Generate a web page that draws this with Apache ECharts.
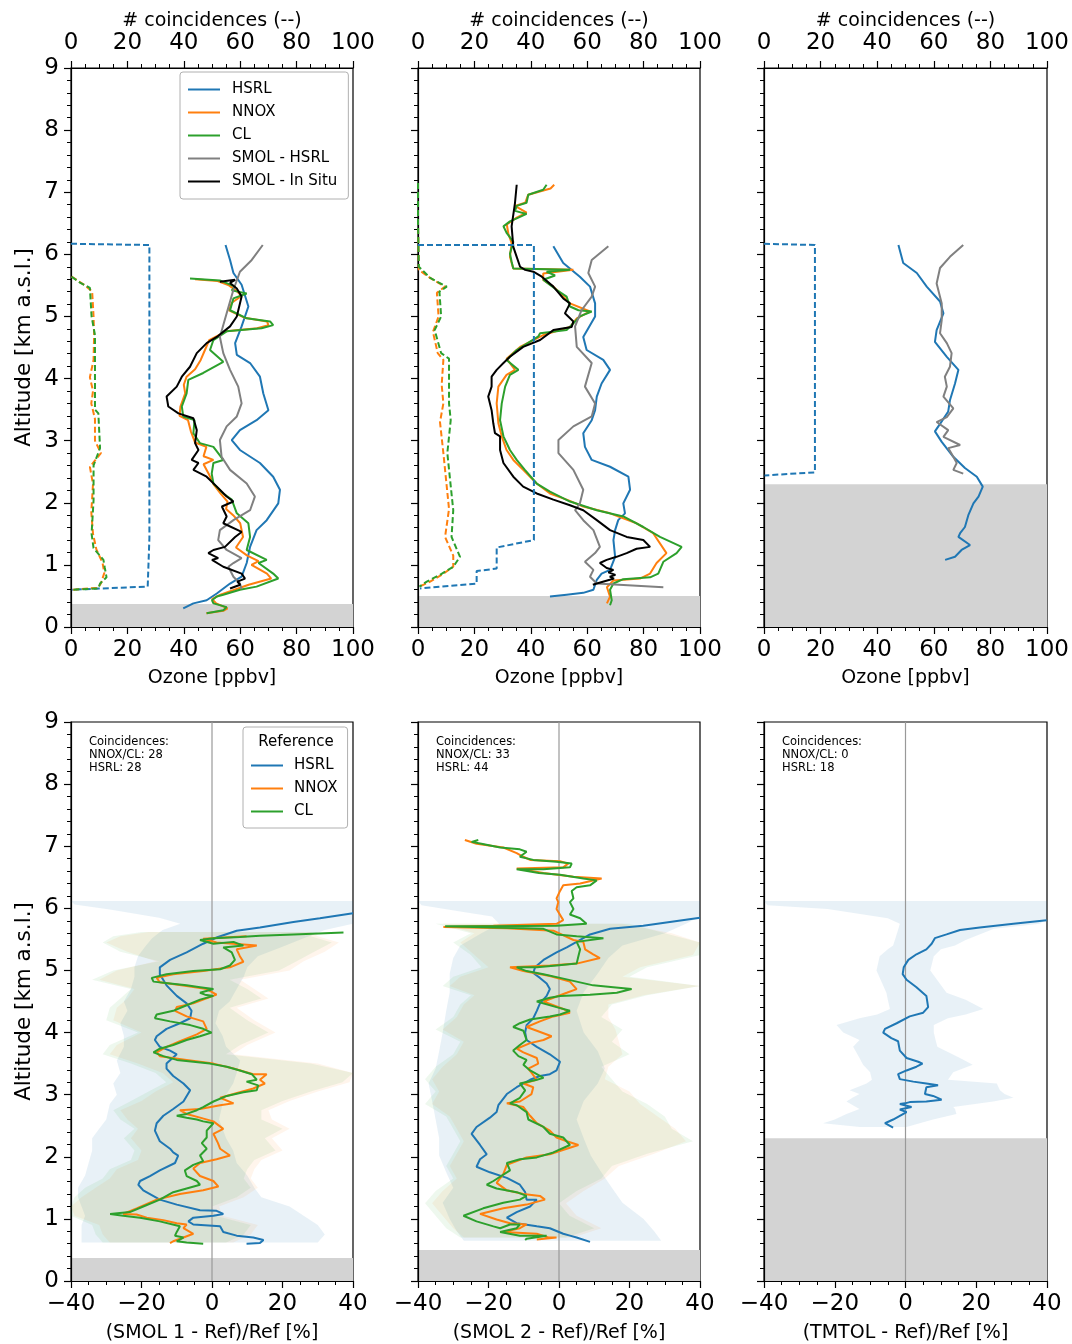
<!DOCTYPE html>
<html>
<head>
<meta charset="utf-8">
<script src="https://cdn.jsdelivr.net/npm/echarts@6/dist/echarts.min.js"></script>
<style>
html, body { margin: 0; padding: 0; background: #fff; }
#main { width: 1072px; height: 1344px; }
</style>
</head>
<body>
<div id="main"></div>
<script>
const FONT = 'DejaVu Sans'
const C_HSRL = '#1f77b4', C_NNOX = '#ff7f0e', C_CL = '#2ca02c', C_SMOL = '#808080', C_INSITU = '#000000'

// layout of the 2 x 3 panels
const panelLeft = [71, 418, 764]
const panelWidth = [282, 282, 283]
const rowTop = [68, 722]
const panelHeight = 559

// per column info
const groundAlt = [0.37, 0.5, 2.3]
const coincNnoxCl = [28, 33, 0]
const coincHsrl = [28, 44, 18]
const diffNames = ['(SMOL 1 - Ref)/Ref [%]', '(SMOL 2 - Ref)/Ref [%]', '(TMTOL - Ref)/Ref [%]']

// ---- top row: ozone profiles [ppbv, km] ----
const o3HsrlA = [[54.8,6.15],[56.4,5.91],[57.6,5.70],[60.5,5.51],[62.9,5.16],[60.5,4.84],[58.2,4.57],[58.8,4.38],[63.5,4.25],[67.0,4.03],[68.2,3.76],[70.0,3.49],[65.8,3.33],[59.9,3.17],[57.0,3.01],[59.9,2.85],[67.0,2.64],[71.7,2.42],[74.1,2.21],[73.5,1.99],[69.4,1.72],[65.8,1.56],[63.5,1.29],[62.3,1.03],[60.5,0.81],[56.4,0.70],[51.7,0.54],[48.1,0.43],[43.4,0.38],[39.8,0.30]]
const o3SmolHsrlA = [[68.0,6.15],[64.1,5.91],[59.9,5.72],[57.6,5.43],[55.2,5.05],[52.8,4.67],[54.0,4.41],[56.4,4.14],[59.3,3.87],[60.5,3.60],[58.8,3.39],[55.2,3.23],[52.8,3.01],[53.4,2.74],[56.4,2.53],[62.3,2.31],[65.2,2.10],[63.5,1.88],[57.6,1.72],[52.8,1.56],[52.2,1.40],[55.2,1.24],[60.5,1.11],[57.6,1.03],[55.8,0.97],[57.6,0.81],[59.9,0.70],[60.5,0.61]]
const o3InsituA = [[52.8,5.56],[58.2,5.59],[56.4,5.54],[58.8,5.45],[60.5,5.32],[58.8,5.00],[56.4,4.84],[51.7,4.67],[48.1,4.57],[44.6,4.41],[42.2,4.19],[39.3,4.03],[37.5,3.87],[33.9,3.71],[34.5,3.55],[38.1,3.44],[43.4,3.36],[44.6,3.17],[44.0,2.96],[45.2,2.85],[42.8,2.69],[45.2,2.64],[43.4,2.53],[48.1,2.42],[51.7,2.26],[55.2,2.10],[57.6,2.02],[53.5,1.94],[55.2,1.78],[54.0,1.67],[60.5,1.53],[58.2,1.45],[54.6,1.29],[50.5,1.24],[48.7,1.19],[52.2,1.11],[50.0,1.08],[54.0,0.97],[60.5,0.86],[61.7,0.78],[59.0,0.73],[60.0,0.68],[56.4,0.62]]
const o3ClA = [[42.2,5.61],[52.8,5.58],[58.2,5.48],[57.0,5.42],[62.3,5.37],[57.6,5.29],[56.4,5.10],[62.3,4.97],[70.6,4.92],[71.7,4.86],[67.6,4.81],[55.2,4.76],[50.5,4.62],[49.3,4.46],[54.0,4.27],[46.9,4.09],[41.6,3.98],[41.0,3.76],[39.3,3.55],[39.8,3.39],[43.8,3.33],[43.4,3.12],[45.7,2.96],[50.5,2.90],[54.0,2.69],[50.5,2.64],[49.9,2.47],[50.5,2.31],[54.0,2.15],[57.0,2.05],[58.8,1.83],[62.9,1.67],[63.5,1.45],[62.3,1.24],[69.4,1.08],[66.5,1.03],[71.7,0.86],[73.5,0.78],[65.8,0.65],[59.9,0.60],[54.0,0.52],[51.7,0.49],[50.0,0.43],[50.5,0.38],[55.2,0.32],[54.0,0.27],[48.1,0.22]]
const o3NnoxA = [[44.0,5.60],[52.0,5.57],[56.0,5.50],[58.5,5.42],[60.5,5.33],[57.0,5.22],[56.0,5.10],[61.5,4.98],[69.5,4.92],[70.0,4.86],[66.0,4.81],[55.0,4.76],[49.0,4.62],[47.5,4.46],[46.0,4.30],[44.0,4.15],[41.0,4.03],[40.0,3.90],[40.5,3.76],[38.8,3.55],[38.5,3.40],[41.5,3.33],[42.5,3.15],[44.0,2.97],[48.0,2.90],[47.0,2.75],[50.5,2.69],[47.0,2.62],[49.0,2.45],[50.5,2.30],[53.0,2.15],[55.5,2.02],[55.0,1.90],[57.5,1.80],[60.0,1.67],[61.0,1.45],[58.5,1.28],[62.5,1.15],[66.5,1.06],[64.0,1.00],[69.5,0.86],[71.0,0.78],[63.0,0.68],[58.0,0.60],[53.0,0.52],[50.0,0.45],[51.5,0.38],[55.5,0.30],[54.0,0.26],[48.0,0.22]]
const nHsrlA = [[0,6.17],[27.8,6.15],[27.8,1.43],[27.2,1.40],[27.2,0.65],[0.3,0.60]]
const nNnoxA = [[0.2,5.64],[5.0,5.50],[7.5,5.40],[8.0,5.00],[8.2,4.70],[8.0,4.30],[6.7,4.02],[7.8,3.80],[7.2,3.60],[8.5,3.35],[8.5,3.00],[10.6,2.80],[6.7,2.58],[7.8,2.30],[7.2,1.85],[7.8,1.50],[9.0,1.25],[11.2,1.03],[11.8,0.87],[10.6,0.70],[9.5,0.63],[0.2,0.60]]
const nClA = [[0.2,5.64],[3.0,5.55],[6.7,5.46],[7.3,5.00],[8.5,4.70],[8.5,4.00],[8.5,3.50],[9.7,3.44],[10.3,2.88],[8.0,2.60],[8.0,2.04],[7.3,1.50],[8.0,1.27],[11.5,1.08],[12.0,0.95],[12.6,0.80],[10.3,0.70],[9.7,0.62],[0.2,0.60]]

const o3HsrlB = [[48.0,6.13],[51.5,5.86],[57.4,5.64],[61.0,5.48],[62.8,5.21],[62.8,5.00],[58.6,4.67],[59.8,4.46],[65.7,4.30],[68.1,4.14],[65.1,3.92],[63.4,3.71],[62.8,3.49],[61.6,3.33],[58.6,3.12],[59.2,2.90],[61.6,2.69],[68.1,2.58],[74.6,2.42],[75.2,2.21],[72.8,1.99],[73.4,1.83],[71.0,1.72],[69.9,1.56],[69.3,1.40],[69.9,1.13],[68.1,0.92],[65.1,0.86],[63.4,0.76],[62.2,0.60],[58.6,0.55],[52.7,0.52],[46.8,0.49]]
const o3SmolHsrlB = [[67.5,6.13],[61.6,5.91],[60.4,5.70],[62.8,5.48],[61.6,5.32],[58.0,5.10],[55.7,4.84],[56.3,4.51],[61.6,4.25],[59.2,3.87],[62.8,3.60],[61.6,3.39],[55.1,3.23],[49.8,3.01],[49.8,2.80],[55.1,2.53],[58.6,2.21],[57.4,1.99],[55.7,1.88],[58.6,1.72],[62.2,1.56],[64.5,1.29],[62.8,1.19],[59.2,1.05],[62.2,0.92],[61.0,0.81],[63.4,0.70],[87.0,0.64]]
const o3InsituB = [[35.0,7.12],[34.4,6.83],[33.2,6.45],[33.8,6.12],[35.0,5.96],[36.2,5.80],[38.0,5.75],[40.9,5.72],[43.9,5.64],[48.0,5.48],[51.5,5.29],[53.9,5.21],[52.1,5.05],[55.1,4.92],[54.5,4.83],[48.0,4.78],[43.3,4.62],[37.3,4.51],[32.6,4.35],[30.3,4.25],[27.9,4.14],[26.1,4.03],[26.1,3.87],[24.9,3.71],[26.1,3.49],[26.7,3.28],[27.3,3.12],[29.1,3.07],[29.1,2.85],[30.3,2.64],[33.8,2.42],[37.3,2.26],[42.1,2.15],[48.0,2.05],[53.9,1.96],[58.6,1.88],[63.4,1.72],[68.1,1.56],[74.0,1.45],[79.9,1.40],[82.3,1.29],[77.5,1.26],[74.0,1.19],[70.4,1.13],[66.9,1.08],[64.5,1.03],[66.9,0.95],[69.3,0.92],[67.5,0.88],[70.0,0.84],[68.0,0.81],[69.5,0.78],[68.0,0.76],[63.4,0.70],[62.0,0.68]]
const o3ClB = [[45.6,7.12],[44.4,7.04],[39.1,6.96],[38.5,6.83],[35.0,6.78],[34.4,6.70],[38.5,6.65],[35.6,6.59],[32.6,6.53],[30.3,6.45],[31.5,6.34],[33.8,6.20],[32.6,6.01],[33.2,5.88],[33.8,5.77],[53.9,5.75],[45.6,5.72],[48.6,5.66],[44.4,5.59],[46.7,5.51],[49.1,5.43],[52.7,5.32],[53.9,5.16],[56.9,5.10],[61.6,5.08],[57.4,5.00],[55.1,4.89],[52.7,4.78],[43.3,4.73],[42.7,4.68],[35.0,4.46],[31.4,4.30],[35.6,4.14],[32.6,4.06],[30.9,3.87],[29.7,3.60],[29.1,3.33],[30.3,3.07],[32.6,2.85],[35.0,2.69],[37.9,2.53],[42.1,2.31],[46.8,2.18],[53.9,2.02],[63.4,1.88],[72.8,1.78],[79.9,1.61],[85.8,1.45],[93.5,1.29],[91.7,1.19],[87.0,1.05],[85.2,0.86],[82.3,0.80],[72.8,0.77],[69.3,0.70],[68.1,0.60],[68.7,0.43],[68.1,0.35]]
const o3NnoxB = [[48.3,7.12],[47.0,7.06],[39.1,6.96],[38.0,6.83],[34.4,6.78],[38.5,6.67],[35.0,6.59],[31.5,6.48],[32.0,6.34],[33.2,6.18],[32.6,5.96],[33.8,5.77],[55.1,5.75],[44.4,5.69],[44.4,5.59],[48.0,5.48],[50.3,5.38],[53.9,5.21],[61.0,5.08],[56.3,4.97],[53.9,4.83],[44.4,4.70],[36.2,4.51],[31.4,4.32],[34.4,4.14],[31.4,4.06],[28.5,3.87],[27.9,3.60],[28.5,3.28],[29.7,3.07],[31.4,2.85],[33.8,2.69],[37.3,2.53],[42.1,2.31],[46.8,2.15],[52.7,2.05],[58.6,1.94],[68.1,1.83],[77.5,1.67],[83.4,1.51],[88.1,1.19],[84.6,1.03],[82.3,0.86],[78.7,0.78],[69.3,0.75],[67.0,0.64],[68.1,0.49],[67.0,0.38]]
const nHsrlB = [[0,6.15],[41.1,6.15],[41.1,1.40],[27.9,1.28],[27.9,0.94],[20.8,0.90],[20.8,0.70],[0.7,0.62]]
const nClB = [[0,7.15],[0,6.50],[0.3,5.80],[4.3,5.62],[10.2,5.48],[7.6,5.40],[8.2,5.00],[5.9,4.78],[8.2,4.41],[11.0,4.32],[11.0,3.60],[11.6,3.33],[10.4,2.80],[12.5,1.88],[11.9,1.45],[14.9,1.13],[12.5,0.97],[7.8,0.84],[3.1,0.73],[0.5,0.65]]
const nNnoxB = [[0,7.15],[0,6.50],[0.3,5.75],[4.3,5.62],[9.6,5.48],[6.7,5.38],[7.3,5.00],[5.3,4.75],[7.0,4.41],[9.0,4.30],[8.4,3.90],[9.0,3.60],[7.8,3.30],[9.0,2.80],[11.0,1.90],[9.6,1.45],[12.5,1.15],[12.5,0.97],[8.4,0.84],[4.3,0.73],[0.5,0.65]]

const o3HsrlC = [[47.5,6.15],[49.2,5.86],[54.0,5.70],[57.5,5.48],[62.2,5.24],[63.4,5.05],[61.0,4.78],[60.4,4.59],[64.6,4.35],[68.7,4.14],[67.5,3.92],[65.7,3.65],[65.1,3.47],[62.8,3.31],[60.4,3.15],[62.8,2.98],[66.9,2.74],[71.0,2.56],[75.2,2.42],[77.3,2.26],[75.8,2.10],[74.0,1.99],[72.2,1.80],[71.0,1.61],[69.3,1.51],[68.7,1.45],[72.8,1.32],[69.8,1.24],[67.5,1.13],[64.0,1.08]]
const o3SmolHsrlC = [[70.4,6.15],[65.7,5.96],[62.2,5.78],[61.0,5.53],[62.8,5.21],[62.8,4.94],[62.2,4.73],[64.6,4.57],[66.3,4.41],[65.7,4.19],[63.9,4.03],[64.6,3.87],[63.4,3.71],[66.9,3.52],[64.6,3.38],[61.0,3.30],[65.1,3.17],[63.4,3.06],[69.3,2.93],[65.1,2.88],[66.9,2.74],[68.1,2.64],[66.9,2.53],[70.4,2.47]]
const nHsrlC = [[0,6.17],[18.0,6.15],[18.0,2.49],[0.2,2.44]]

// ---- bottom row: relative differences [%, km] ----
const dHsrlA = [[40.0,5.92],[30.6,5.84],[23.1,5.78],[13.6,5.69],[7.0,5.64],[1.3,5.53],[-2.5,5.43],[-7.2,5.29],[-11.9,5.17],[-14.8,5.05],[-14.8,4.94],[-12.9,4.76],[-10.0,4.59],[-7.2,4.47],[-5.8,4.35],[-6.2,4.23],[-9.1,4.15],[-12.9,4.06],[-15.7,3.94],[-16.2,3.88],[-14.8,3.77],[-11.9,3.71],[-10.0,3.65],[-12.9,3.50],[-12.9,3.42],[-11.0,3.30],[-8.1,3.18],[-6.2,3.07],[-8.1,2.89],[-11.0,2.77],[-13.8,2.66],[-15.7,2.54],[-16.2,2.42],[-14.8,2.25],[-11.9,2.13],[-11.0,2.07],[-9.6,2.02],[-10.5,1.90],[-14.8,1.78],[-17.6,1.69],[-20.4,1.61],[-20.9,1.55],[-19.5,1.46],[-14.8,1.31],[-10.0,1.23],[-3.4,1.14],[1.3,1.13],[3.2,1.08],[0.4,1.05],[-5.3,1.02],[-6.7,0.96],[-5.3,0.91],[2.3,0.88],[3.2,0.79],[7.0,0.73],[11.7,0.70],[14.6,0.66],[13.6,0.61],[9.8,0.60]]
const dClA = [[37.3,5.61],[23.1,5.58],[13.6,5.56],[7.9,5.54],[0.4,5.52],[-3.4,5.49],[0.4,5.43],[6.1,5.46],[8.9,5.40],[3.2,5.37],[5.6,5.29],[6.5,5.17],[5.1,5.08],[2.3,5.02],[-5.3,4.99],[-12.9,4.94],[-17.1,4.88],[-16.6,4.82],[-11.9,4.79],[-7.2,4.76],[-3.4,4.73],[0.4,4.70],[-3.4,4.64],[-2.0,4.61],[0.4,4.59],[-3.4,4.53],[-7.2,4.44],[-11.0,4.35],[-15.7,4.29],[-16.2,4.23],[-11.9,4.18],[-6.2,4.12],[-2.5,4.06],[-0.1,4.00],[-3.4,3.94],[-7.2,3.88],[-11.0,3.80],[-14.8,3.74],[-16.6,3.68],[-13.8,3.62],[-10.0,3.56],[-5.3,3.53],[-0.6,3.50],[4.2,3.45],[7.9,3.39],[11.3,3.33],[12.7,3.24],[9.8,3.21],[13.1,3.15],[12.7,3.07],[8.9,3.04],[4.2,2.98],[0.4,2.89],[-2.5,2.80],[-4.3,2.75],[-7.2,2.69],[-10.0,2.66],[-7.2,2.63],[-4.3,2.60],[-2.5,2.57],[0.4,2.54],[-1.5,2.42],[-1.5,2.31],[-2.9,2.22],[-1.5,2.13],[-3.4,2.02],[-2.5,1.93],[-5.3,1.87],[-7.7,1.78],[-7.2,1.69],[-4.3,1.61],[-3.4,1.55],[-7.2,1.49],[-11.0,1.43],[-14.8,1.31],[-19.5,1.20],[-23.3,1.11],[-28.9,1.08],[-25.2,1.05],[-20.4,1.02],[-14.8,0.96],[-9.1,0.88],[-10.0,0.79],[-10.5,0.73],[-8.1,0.70],[-10.0,0.64],[-7.2,0.62],[-2.5,0.60]]
const dNnoxA = [[9.8,5.55],[-2.5,5.51],[1.3,5.45],[12.7,5.40],[7.0,5.34],[7.9,5.23],[8.9,5.14],[5.1,5.05],[-2.5,4.99],[-11.0,4.94],[-15.7,4.88],[-14.8,4.81],[-7.2,4.75],[-1.5,4.70],[1.3,4.61],[-2.5,4.53],[-5.3,4.47],[-10.0,4.41],[-10.5,4.35],[-7.2,4.26],[-2.5,4.18],[-1.5,4.06],[-4.3,3.97],[-9.1,3.86],[-12.9,3.77],[-15.7,3.68],[-14.8,3.62],[-7.2,3.56],[0.4,3.50],[6.1,3.42],[11.7,3.33],[15.5,3.33],[13.6,3.24],[15.0,3.18],[11.7,3.10],[6.1,3.01],[2.3,2.95],[6.1,2.86],[2.3,2.83],[-3.4,2.77],[-9.1,2.75],[-7.2,2.69],[-3.4,2.63],[0.4,2.57],[3.2,2.45],[0.4,2.37],[1.7,2.22],[2.3,2.13],[5.1,2.02],[1.3,1.96],[-3.4,1.90],[-5.3,1.81],[-3.4,1.69],[0.4,1.61],[1.8,1.52],[-2.5,1.46],[-9.1,1.40],[-15.7,1.31],[-21.4,1.17],[-25.2,1.08],[-21.4,1.07],[-18.5,1.02],[-13.8,0.98],[-10.0,0.93],[-7.2,0.91],[-8.1,0.85],[-5.3,0.76],[-8.1,0.70],[-11.0,0.64],[-11.9,0.61]]

const dHsrlB = [[40.0,5.85],[23.9,5.72],[14.5,5.67],[8.8,5.58],[5.0,5.46],[2.2,5.37],[-0.7,5.29],[-4.4,5.17],[-6.8,5.05],[-7.3,4.96],[-5.4,4.88],[-3.5,4.79],[-2.6,4.70],[-3.5,4.59],[-5.4,4.47],[-6.3,4.35],[-7.3,4.23],[-9.2,4.12],[-9.6,4.00],[-9.2,3.88],[-6.3,3.77],[-2.6,3.65],[0.3,3.53],[-0.7,3.39],[-2.6,3.33],[-5.4,3.30],[-8.2,3.24],[-12.0,3.12],[-14.8,3.01],[-17.2,2.83],[-17.7,2.72],[-19.6,2.63],[-23.4,2.48],[-24.8,2.37],[-22.4,2.19],[-20.5,2.04],[-22.4,1.96],[-23.4,1.84],[-19.6,1.75],[-14.8,1.66],[-11.1,1.55],[-9.6,1.43],[-9.2,1.31],[-6.3,1.31],[-8.2,1.20],[-12.0,1.11],[-14.8,1.02],[-12.0,0.93],[-6.3,0.88],[-2.6,0.85],[1.2,0.76],[3.1,0.73],[5.0,0.70],[8.8,0.63]]
const dClB = [[-22.9,7.10],[-24.8,7.07],[-22.0,7.04],[-16.7,6.98],[-11.1,6.95],[-9.2,6.91],[-11.1,6.83],[-7.3,6.78],[-0.7,6.75],[3.6,6.72],[3.1,6.66],[-4.4,6.63],[-12.0,6.63],[-5.7,6.57],[0.3,6.54],[6.9,6.48],[10.7,6.45],[8.8,6.37],[5.0,6.34],[3.6,6.28],[4.1,6.16],[3.1,6.10],[4.1,5.99],[3.1,5.90],[6.0,5.84],[7.8,5.75],[-0.7,5.72],[-18.6,5.71],[-32.3,5.71],[-18.6,5.69],[-4.4,5.67],[-0.7,5.58],[5.0,5.55],[12.6,5.52],[5.0,5.46],[6.0,5.34],[5.5,5.23],[5.0,5.11],[-0.7,5.08],[-6.3,5.05],[-12.0,5.05],[-9.2,4.99],[-4.4,4.94],[0.3,4.88],[9.7,4.76],[15.4,4.73],[20.6,4.70],[16.4,4.64],[8.8,4.61],[0.3,4.59],[-2.6,4.56],[-6.3,4.50],[-0.7,4.41],[3.1,4.35],[0.3,4.29],[-2.6,4.26],[-8.2,4.21],[-11.1,4.15],[-13.0,4.09],[-10.1,4.03],[-9.2,3.88],[-11.1,3.80],[-13.0,3.71],[-11.5,3.62],[-9.2,3.56],[-10.1,3.48],[-8.2,3.39],[-4.4,3.27],[-6.3,3.24],[-11.1,3.18],[-9.6,3.07],[-11.1,2.95],[-13.9,2.86],[-12.0,2.83],[-9.2,2.72],[-8.7,2.60],[-4.4,2.48],[-2.6,2.37],[1.2,2.31],[3.1,2.19],[-1.6,2.07],[-6.3,1.99],[-11.1,1.96],[-14.8,1.90],[-13.9,1.78],[-18.6,1.61],[-20.5,1.55],[-17.7,1.49],[-12.0,1.43],[-9.2,1.37],[-11.1,1.31],[-15.8,1.26],[-21.5,1.17],[-27.1,1.05],[-23.4,0.96],[-18.6,0.88],[-16.7,0.85],[-13.9,0.91],[-11.1,0.91],[-12.0,0.85],[-16.7,0.79],[-11.1,0.73],[-3.5,0.73],[-9.2,0.68],[-9.6,0.66]]
const dNnoxB = [[-26.7,7.10],[-23.4,7.04],[-15.8,6.98],[-12.0,6.89],[-10.1,6.83],[-8.2,6.78],[0.3,6.76],[2.6,6.72],[1.2,6.66],[-12.0,6.64],[-4.4,6.57],[4.1,6.51],[12.1,6.48],[6.0,6.40],[1.2,6.37],[0.3,6.28],[-0.7,6.16],[-0.2,6.10],[-0.7,5.99],[1.2,5.81],[-0.7,5.75],[-18.6,5.72],[-32.8,5.70],[-14.8,5.68],[-1.6,5.64],[4.1,5.49],[6.9,5.46],[7.4,5.34],[9.7,5.26],[11.6,5.20],[5.0,5.11],[-2.6,5.08],[-13.9,5.05],[-10.1,4.99],[-2.6,4.91],[3.1,4.82],[5.0,4.70],[2.2,4.64],[-1.6,4.56],[-4.4,4.50],[1.2,4.38],[3.1,4.32],[-1.6,4.26],[-5.4,4.18],[-9.2,4.09],[-6.3,4.03],[-2.1,3.94],[-4.4,3.88],[-8.2,3.83],[-12.0,3.74],[-10.1,3.68],[-6.3,3.59],[-5.9,3.50],[-8.7,3.42],[-6.3,3.24],[-10.1,3.18],[-7.3,3.12],[-7.8,3.01],[-11.1,2.89],[-14.8,2.86],[-10.1,2.80],[-8.2,2.66],[-6.3,2.54],[-2.6,2.42],[-0.7,2.31],[2.2,2.25],[5.5,2.19],[2.2,2.13],[-2.6,2.04],[-9.2,1.99],[-14.8,1.87],[-15.8,1.72],[-17.7,1.58],[-14.8,1.46],[-10.1,1.40],[-5.4,1.37],[-4.0,1.31],[-9.2,1.23],[-15.8,1.17],[-22.4,1.08],[-17.7,0.99],[-13.9,0.93],[-9.2,0.91],[-11.1,0.85],[-15.8,0.79],[-6.3,0.76],[-3.0,0.70],[-0.7,0.70],[-6.3,0.67]]

const dHsrlC = [[39.9,5.81],[30.5,5.75],[21.0,5.69],[15.4,5.65],[11.6,5.58],[8.3,5.52],[7.4,5.43],[5.9,5.34],[3.1,5.26],[0.8,5.17],[-0.5,5.05],[-0.8,4.94],[0.3,4.85],[3.1,4.73],[5.9,4.59],[6.4,4.41],[5.0,4.32],[1.2,4.26],[-2.5,4.15],[-5.8,4.06],[-6.3,4.00],[-4.0,3.91],[-2.1,3.86],[-1.6,3.71],[0.3,3.59],[3.6,3.53],[4.8,3.50],[3.1,3.45],[0.3,3.39],[-2.1,3.33],[-1.6,3.25],[2.2,3.21],[5.9,3.18],[9.2,3.15],[5.9,3.12],[5.5,3.01],[7.8,2.98],[10.2,2.92],[5.9,2.89],[1.2,2.88],[-0.2,2.86],[-1.6,2.85],[1.7,2.80],[-1.6,2.76],[0.3,2.72],[-1.6,2.66],[-3.5,2.60],[-5.8,2.54],[-3.5,2.47]]

// spread bands: [altitude, low %, high %]
const bandHsrlA = [[6.12,-40,40],[6.06,-39,40],[5.98,-29,40],[5.85,-15,40],[5.75,-9,40],[5.65,-14,32],[5.52,-17,26],[5.38,-19,20],[5.23,-21,13],[5.05,-22,10],[4.90,-22,9],[4.70,-23,7],[4.50,-25,5],[4.35,-24,2],[4.15,-26,1],[3.95,-25,3],[3.77,-25,4],[3.55,-27,8],[3.35,-26,7],[3.18,-28,6],[3.00,-27,4],[2.85,-29,3],[2.60,-30,2],[2.45,-32,3],[2.30,-34,4],[2.10,-34,6],[1.90,-35,7],[1.70,-36,10],[1.50,-38,12],[1.35,-38,14],[1.20,-37,22],[1.05,-36,26],[0.90,-37,30],[0.75,-37,32],[0.62,-37,30]]
const bandNnoxA = [[5.62,-18,28],[5.55,-26,30],[5.45,-30,36],[5.30,-24,32],[5.15,-16,26],[5.00,-27,22],[4.85,-32,8],[4.70,-22,12],[4.55,-24,16],[4.40,-27,7],[4.20,-28,12],[4.00,-20,18],[3.80,-27,10],[3.65,-29,6],[3.50,-21,30],[3.35,-14,40],[3.20,-11,39],[3.05,-16,30],[2.90,-20,22],[2.75,-26,16],[2.60,-24,17],[2.45,-21,22],[2.30,-23,17],[2.10,-20,20],[1.95,-21,14],[1.80,-27,12],[1.65,-29,11],[1.50,-33,13],[1.35,-37,9],[1.20,-40,2],[1.05,-39,3],[0.90,-32,13],[0.75,-31,11],[0.62,-29,6]]
const bandClA = [[5.62,-20,30],[5.55,-28,28],[5.45,-31,34],[5.30,-26,29],[5.15,-15,24],[5.00,-28,19],[4.85,-34,5],[4.70,-23,10],[4.55,-26,14],[4.40,-29,5],[4.20,-30,10],[4.00,-21,16],[3.80,-29,8],[3.65,-31,4],[3.50,-23,28],[3.35,-16,40],[3.20,-13,37],[3.05,-18,28],[2.90,-23,20],[2.75,-28,14],[2.60,-26,14],[2.45,-22,20],[2.30,-25,15],[2.10,-22,18],[1.95,-23,12],[1.80,-29,10],[1.65,-31,9],[1.50,-36,11],[1.35,-39,7],[1.20,-40,0],[1.05,-40,1],[0.90,-34,11],[0.75,-33,9],[0.62,-31,4]]
const bandHsrlB = [[6.12,-40,40],[6.05,-39,40],[5.95,-28,40],[5.87,-19,40],[5.75,-17,36],[5.60,-22,30],[5.40,-28,18],[5.20,-30,14],[4.95,-31,11],[4.65,-31,7],[4.35,-32,5],[4.00,-33,7],[3.70,-34,11],[3.42,-35,13],[3.18,-37,11],[2.90,-36,7],[2.60,-35,5],[2.30,-34,7],[2.02,-34,9],[1.75,-32,12],[1.50,-30,15],[1.26,-33,18],[1.00,-31,24],[0.80,-29,27],[0.65,-27,29]]
const bandNnoxB = [[5.75,-33,18],[5.60,-24,32],[5.45,-28,40],[5.25,-24,38],[5.05,-20,23],[4.90,-28,18],[4.75,-31,40],[4.60,-24,24],[4.45,-27,14],[4.25,-29,14],[4.05,-33,16],[3.85,-27,17],[3.65,-29,18],[3.45,-33,14],[3.25,-36,13],[3.05,-34,20],[2.85,-36,23],[2.65,-31,28],[2.45,-29,33],[2.25,-27,36],[2.05,-29,27],[1.85,-31,17],[1.65,-29,13],[1.45,-33,7],[1.25,-36,2],[1.05,-33,5],[0.85,-30,12],[0.70,-27,4]]
const bandClB = [[5.75,-35,20],[5.60,-25,30],[5.45,-30,40],[5.25,-25,40],[5.05,-22,25],[4.90,-30,20],[4.75,-33,40],[4.60,-25,25],[4.45,-28,15],[4.25,-30,12],[4.05,-35,18],[3.85,-28,15],[3.65,-30,20],[3.45,-35,12],[3.25,-38,15],[3.05,-35,18],[2.85,-38,25],[2.65,-32,30],[2.45,-30,32],[2.25,-28,38],[2.05,-30,25],[1.85,-32,15],[1.65,-30,12],[1.45,-35,5],[1.25,-38,0],[1.05,-35,3],[0.85,-32,10],[0.70,-28,2]]
const bandHsrlC = [[6.12,-40,40],[6.05,-39,40],[5.99,-22,40],[5.84,-5,40],[5.75,-1.6,38],[5.67,-2,25],[5.49,-3,17],[5.40,-3.5,14],[5.34,-5,10],[5.23,-7.3,8],[5.00,-8.2,7],[4.64,-5.4,11.6],[4.53,-5,17],[4.38,-4.4,22],[4.29,-8,17],[4.23,-13,12],[4.12,-19.5,8],[4.00,-17.6,8],[3.88,-13,8.5],[3.77,-14.8,9],[3.59,-13,15.4],[3.48,-12,19],[3.36,-10,13.5],[3.24,-9.5,12],[3.18,-11,25.8],[3.07,-15.8,26.7],[3.01,-13,28],[2.95,-15,30.5],[2.89,-16.7,24.8],[2.80,-14,13.5],[2.77,-13,14],[2.69,-16.7,14.4],[2.60,-20,7.8],[2.54,-23.3,4],[2.48,-12.9,0.3]]

// ---------------------------------------------------------------
const minus = v => String(v).replace('-', '\u2212')

function axisBase(extra) {
  return Object.assign({
    type: 'value',
    axisLine: { show: true, onZero: false, lineStyle: { color: '#000', width: 1.2 } },
    axisTick: { show: true, length: 7, lineStyle: { color: '#000', width: 1.2 } },
    minorTick: { show: true, splitNumber: 4, length: 4, lineStyle: { color: '#000', width: 1 } },
    splitLine: { show: false },
    minorSplitLine: { show: false },
    nameLocation: 'middle',
    nameTextStyle: { fontFamily: FONT, fontSize: 19, color: '#000' },
    axisLabel: { fontFamily: FONT, fontSize: 23, color: '#000', margin: 12, formatter: minus }
  }, extra)
}

const grids = [], xAxes = [], yAxes = []
for (let r = 0; r < 2; r++) {
  for (let c = 0; c < 3; c++) {
    grids.push({ left: panelLeft[c], top: rowTop[r], width: panelWidth[c], height: panelHeight,
      show: true, borderColor: '#000', borderWidth: 1.2, containLabel: false, outerBoundsMode: 'none' })
  }
}
// x 0..2: ozone (top row, bottom side)
for (let c = 0; c < 3; c++) {
  xAxes.push(axisBase({ gridIndex: c, position: 'bottom', min: 0, max: 100, interval: 20, name: 'Ozone [ppbv]', nameGap: 42 }))
}
// x 3..5: coincidences (top row, top side)
for (let c = 0; c < 3; c++) {
  xAxes.push(axisBase({ gridIndex: c, position: 'top', min: 0, max: 100, interval: 20, name: '# coincidences (--)', nameGap: 37,
    axisLabel: { fontFamily: FONT, fontSize: 23, color: '#000', margin: 13 } }))
}
// x 6..8: differences (bottom row)
for (let c = 0; c < 3; c++) {
  xAxes.push(axisBase({ gridIndex: 3 + c, position: 'bottom', min: -40, max: 40, interval: 20, name: diffNames[c], nameGap: 43 }))
}
for (let g = 0; g < 6; g++) {
  const first = g % 3 === 0
  yAxes.push(axisBase({ gridIndex: g, position: 'left', min: 0, max: 9, interval: 1,
    minorTick: { show: true, splitNumber: 5, length: 4, lineStyle: { color: '#000', width: 1 } },
    name: first ? 'Altitude [km a.s.l.]' : '', nameGap: 36,
    nameTextStyle: { fontFamily: FONT, fontSize: 21.5, color: '#000' },
    axisLabel: { show: first, fontFamily: FONT, fontSize: 23, color: '#000', margin: 12 } }))
}

function line(name, data, color, xi, yi, dashed) {
  return { name, type: 'line', data, xAxisIndex: xi, yAxisIndex: yi, color,
    symbol: 'none', showSymbol: false, silent: true, z: 3, animation: false,
    lineStyle: { color, width: 2, type: dashed ? [6, 3] : 'solid' } }
}

function band(rows, color, xi, yi, alpha) {
  return { type: 'custom', xAxisIndex: xi, yAxisIndex: yi, silent: true, z: 1, clip: true,
    data: rows.map(r => [r[1], r[0]]),
    renderItem: (params, api) => {
      if (params.dataIndex !== 0) return null
      const upper = rows.map(r => api.coord([r[2], r[0]]))
      const lower = rows.slice().reverse().map(r => api.coord([r[1], r[0]]))
      return { type: 'polygon', shape: { points: upper.concat(lower) }, style: { fill: color, opacity: alpha } }
    } }
}

function ground(alt, xmin, xmax, xi, yi) {
  return { type: 'custom', xAxisIndex: xi, yAxisIndex: yi, silent: true, z: 0,
    data: [[xmin, alt]],
    renderItem: (params, api) => {
      const a = api.coord([xmin, api.value(1)])
      const b = api.coord([xmax, 0])
      return { type: 'rect', shape: { x: a[0], y: a[1], width: b[0] - a[0], height: b[1] - a[1] }, style: { fill: '#d3d3d3' } }
    } }
}

function zeroLine(xi, yi) {
  return { type: 'line', data: [[0, 0], [0, 9]], xAxisIndex: xi, yAxisIndex: yi, symbol: 'none', silent: true,
    z: 2, animation: false, color: '#999', lineStyle: { color: '#999', width: 1.2 } }
}

const series = []
// ground shading
for (let c = 0; c < 3; c++) {
  series.push(ground(groundAlt[c], 0, 100, c, c))
  series.push(ground(groundAlt[c], -40, 40, 6 + c, 3 + c))
  series.push(zeroLine(6 + c, 3 + c))
}
// top row
series.push(
  line('HSRL', o3HsrlA, C_HSRL, 0, 0), line('NNOX', o3NnoxA, C_NNOX, 0, 0), line('CL', o3ClA, C_CL, 0, 0),
  line('SMOL - HSRL', o3SmolHsrlA, C_SMOL, 0, 0), line('SMOL - In Situ', o3InsituA, C_INSITU, 0, 0),
  line('n HSRL', nHsrlA, C_HSRL, 3, 0, true), line('n NNOX', nNnoxA, C_NNOX, 3, 0, true), line('n CL', nClA, C_CL, 3, 0, true),

  line('HSRL', o3HsrlB, C_HSRL, 1, 1), line('NNOX', o3NnoxB, C_NNOX, 1, 1), line('CL', o3ClB, C_CL, 1, 1),
  line('SMOL - HSRL', o3SmolHsrlB, C_SMOL, 1, 1), line('SMOL - In Situ', o3InsituB, C_INSITU, 1, 1),
  line('n HSRL', nHsrlB, C_HSRL, 4, 1, true), line('n NNOX', nNnoxB, C_NNOX, 4, 1, true), line('n CL', nClB, C_CL, 4, 1, true),

  line('HSRL', o3HsrlC, C_HSRL, 2, 2), line('SMOL - HSRL', o3SmolHsrlC, C_SMOL, 2, 2),
  line('n HSRL', nHsrlC, C_HSRL, 5, 2, true)
)
// bottom row
series.push(
  band(bandHsrlA, C_HSRL, 6, 3, 0.1), band(bandNnoxA, C_NNOX, 6, 3, 0.08), band(bandClA, C_CL, 6, 3, 0.08),
  line('HSRL', dHsrlA, C_HSRL, 6, 3), line('NNOX', dNnoxA, C_NNOX, 6, 3), line('CL', dClA, C_CL, 6, 3),
  band(bandHsrlB, C_HSRL, 7, 4, 0.1), band(bandNnoxB, C_NNOX, 7, 4, 0.08), band(bandClB, C_CL, 7, 4, 0.08),
  line('HSRL', dHsrlB, C_HSRL, 7, 4), line('NNOX', dNnoxB, C_NNOX, 7, 4), line('CL', dClB, C_CL, 7, 4),
  band(bandHsrlC, C_HSRL, 8, 5, 0.1),
  line('HSRL', dHsrlC, C_HSRL, 8, 5)
)

const legendBase = {
  orient: 'vertical', selectedMode: false, icon: 'rect', itemWidth: 32, itemHeight: 2, itemGap: 6,
  borderColor: '#b0b0b0', borderWidth: 1, borderRadius: 3, backgroundColor: 'rgba(255,255,255,0.85)', z: 10
}

const graphics = [{ type: 'text', z: 100, style: { text: 'Reference', x: 296, y: 742, align: 'center', verticalAlign: 'middle',
  font: '15px "DejaVu Sans"', fill: '#000' } }]
for (let c = 0; c < 3; c++) {
  graphics.push({ type: 'text', z: 100, style: {
    text: 'Coincidences:\nNNOX/CL: ' + coincNnoxCl[c] + '\nHSRL: ' + coincHsrl[c],
    x: panelLeft[c] + 18, y: 736, font: '11.5px "DejaVu Sans"', lineHeight: 13, fill: '#000' } })
}

const myChart = echarts.init(document.getElementById('main'), null, { renderer: 'canvas' })
myChart.setOption({
  backgroundColor: '#fff',
  animation: false,
  grid: grids,
  xAxis: xAxes,
  yAxis: yAxes,
  legend: [
    Object.assign({}, legendBase, { left: 180, top: 72, padding: [9, 11, 9, 8], itemGap: 6,
      data: ['HSRL', 'NNOX', 'CL', 'SMOL - HSRL', 'SMOL - In Situ'],
      textStyle: { fontFamily: FONT, fontSize: 15, lineHeight: 17, color: '#000', padding: [0, 0, 0, 7] } }),
    Object.assign({}, legendBase, { left: 243, top: 727, padding: [30, 10, 8, 8], itemGap: 6,
      data: ['HSRL', 'NNOX', 'CL'],
      textStyle: { fontFamily: FONT, fontSize: 15, lineHeight: 17, color: '#000', padding: [0, 0, 0, 6] } })
  ],
  graphic: graphics,
  series
})
window.onresize = () => myChart.resize()
</script>
</body>
</html>
